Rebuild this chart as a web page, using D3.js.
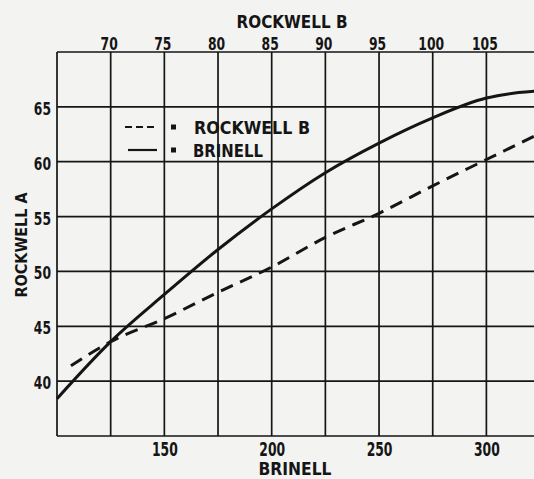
<!DOCTYPE html>
<html>
<head>
<meta charset="utf-8">
<script src="https://cdn.jsdelivr.net/npm/d3@7/dist/d3.min.js"></script>
<style>
  html, body { margin: 0; padding: 0; background: #f3f3f1; }
  svg { display: block; }
  text { font-family: "DejaVu Sans Condensed", "DejaVu Sans", sans-serif; font-stretch: condensed; font-weight: bold; fill: #151515; }
</style>
</head>
<body>
<svg id="chart" width="534" height="479"></svg>
<script>
// ---- data ----
const brinellTicks = [150, 200, 250, 300];
const rockwellBTicks = [70, 75, 80, 85, 90, 95, 100, 105];
const rockwellATicks = [40, 45, 50, 55, 60, 65];
const brinellGrid = [100, 125, 150, 175, 200, 225, 250, 275, 300, 325];
const rockwellAGrid = [35, 40, 45, 50, 55, 60, 65, 70];

// Rockwell A vs Brinell (solid)
const brinellX = [100, 125, 150, 175, 200, 225, 250, 275, 300, 315, 330];
const brinellRA = [38.4, 43.6, 47.9, 52.0, 55.7, 59.0, 61.7, 64.0, 65.8, 66.3, 66.5];
// Rockwell A vs Rockwell B (dashed)
const rockwellBX = [66.3, 70, 75, 80, 85, 90, 95, 100, 105, 110, 111];
const rockwellBRA = [41.4, 43.6, 45.7, 48.1, 50.4, 53.1, 55.3, 57.8, 60.2, 62.6, 63.1];

const legendLabels = ["ROCKWELL B", "BRINELL"];

// ---- layout ----
const svg = d3.select("#chart");
const mLeft = 57, mRight = 550.8, mTop = 52, mBottom = 436;
const ink = "#151515";
const digitW = 8.6;

const x = d3.scaleLinear().domain([100, 330]).range([mLeft, mRight]);
const xTop = d3.scaleLinear().domain([45 + 100 / 5, 45 + 330 / 5]).range([mLeft, mRight]);
const y = d3.scaleLinear().domain([35, 70]).range([mBottom, mTop]);

// grid
const grid = svg.append("g").attr("stroke", ink).attr("stroke-width", 1.7);
grid.selectAll("line.v").data(brinellGrid).join("line").attr("class", "v")
  .attr("x1", d => x(d)).attr("x2", d => x(d))
  .attr("y1", mTop).attr("y2", mBottom);
grid.selectAll("line.h").data(rockwellAGrid).join("line").attr("class", "h")
  .attr("x1", mLeft).attr("x2", 534)
  .attr("y1", d => y(d)).attr("y2", d => y(d));

function styleTicks(g) {
  g.select(".domain").remove();
  g.selectAll(".tick line").remove();
  g.attr("font-family", null).attr("font-size", null);
  g.selectAll("text").attr("fill", ink).style("font-size", "19px")
    .attr("textLength", d => String(d).length * digitW).attr("lengthAdjust", "spacingAndGlyphs");
}

// axes
const bAxis = svg.append("g").attr("transform", `translate(0,${mBottom})`)
  .call(d3.axisBottom(x).tickValues(brinellTicks).tickSize(0).tickFormat(d3.format("d")));
styleTicks(bAxis);
bAxis.selectAll("text").attr("y", 20).attr("dy", null);

const tAxis = svg.append("g").attr("transform", `translate(0,${mTop})`)
  .call(d3.axisTop(xTop).tickValues(rockwellBTicks).tickSize(0).tickFormat(d3.format("d")));
styleTicks(tAxis);
tAxis.selectAll("text").attr("y", -2).attr("dy", null).attr("x", -2).style("font-size", "18px");

const lAxis = svg.append("g").attr("transform", `translate(${mLeft},0)`)
  .call(d3.axisLeft(y).tickValues(rockwellATicks).tickSize(0).tickFormat(d3.format("d")));
styleTicks(lAxis);
lAxis.selectAll("text").attr("x", -6).attr("dy", "0.42em").style("font-size", "18px");

// axis titles
svg.append("text").attr("x", 292).attr("y", 27.5).attr("text-anchor", "middle")
  .style("font-size", "18px").attr("textLength", 111).attr("lengthAdjust", "spacingAndGlyphs")
  .text("ROCKWELL B");
svg.append("text").attr("x", 295).attr("y", 475).attr("text-anchor", "middle")
  .style("font-size", "18px").attr("textLength", 73).attr("lengthAdjust", "spacingAndGlyphs")
  .text("BRINELL");
svg.append("text").attr("transform", "translate(27,245) rotate(-90)").attr("text-anchor", "middle")
  .style("font-size", "16px").attr("textLength", 105).attr("lengthAdjust", "spacingAndGlyphs")
  .text("ROCKWELL A");

// curves
const solidLine = d3.line().x(d => x(d[0])).y(d => y(d[1])).curve(d3.curveMonotoneX);
const dashLine = d3.line().x(d => xTop(d[0])).y(d => y(d[1])).curve(d3.curveMonotoneX);

svg.append("path").datum(brinellX.map((b, i) => [b, brinellRA[i]]))
  .attr("d", solidLine).attr("fill", "none").attr("stroke", ink).attr("stroke-width", 3);
svg.append("path").datum(rockwellBX.map((b, i) => [b, rockwellBRA[i]]))
  .attr("d", dashLine).attr("fill", "none").attr("stroke", ink).attr("stroke-width", 3)
  .attr("stroke-dasharray", "13,8");

// legend
const leg = svg.append("g");
const legY = [127, 150];
leg.append("line").attr("x1", 125).attr("x2", 155).attr("y1", legY[0]).attr("y2", legY[0])
  .attr("stroke", ink).attr("stroke-width", 2.2).attr("stroke-dasharray", "7,4");
leg.append("line").attr("x1", 128).attr("x2", 157).attr("y1", legY[1]).attr("y2", legY[1])
  .attr("stroke", ink).attr("stroke-width", 2.2);
legY.forEach(yy => {
  leg.append("rect").attr("x", 171).attr("y", yy - 2.5).attr("width", 5).attr("height", 5).attr("fill", ink);
});
leg.append("text").attr("x", 194).attr("y", legY[0] + 7).style("font-size", "18px")
  .attr("textLength", 116).attr("lengthAdjust", "spacingAndGlyphs").text(legendLabels[0]);
leg.append("text").attr("x", 193).attr("y", legY[1] + 7).style("font-size", "18px")
  .attr("textLength", 70).attr("lengthAdjust", "spacingAndGlyphs").text(legendLabels[1]);
</script>
</body>
</html>
